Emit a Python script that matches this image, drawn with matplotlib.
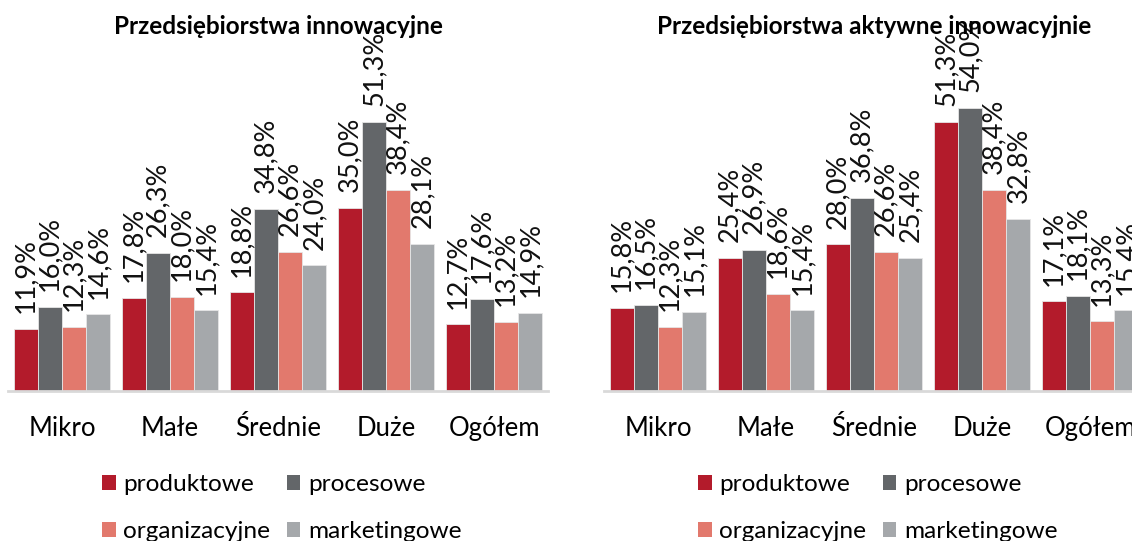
import matplotlib
matplotlib.use("Agg")
import matplotlib.pyplot as plt
import numpy as np
from matplotlib.patches import Patch

categories = ["Mikro", "Małe", "Średnie", "Duże", "Ogółem"]
series_names = ["produktowe", "procesowe", "organizacyjne", "marketingowe"]
colors = ["#B31B2B", "#636669", "#E2796D", "#A5A8AB"]

titles = ["Przedsiębiorstwa innowacyjne", "Przedsiębiorstwa aktywne innowacyjnie"]

innowacyjne_produktowe = [11.9, 17.8, 18.8, 35.0, 12.7]
innowacyjne_procesowe = [16.0, 26.3, 34.8, 51.3, 17.6]
innowacyjne_organizacyjne = [12.3, 18.0, 26.6, 38.4, 13.2]
innowacyjne_marketingowe = [14.6, 15.4, 24.0, 28.1, 14.9]

aktywne_produktowe = [15.8, 25.4, 28.0, 51.3, 17.1]
aktywne_procesowe = [16.5, 26.9, 36.8, 54.0, 18.1]
aktywne_organizacyjne = [12.3, 18.6, 26.6, 38.4, 13.3]
aktywne_marketingowe = [15.1, 15.4, 25.4, 32.8, 15.4]

panels = [
    [innowacyjne_produktowe, innowacyjne_procesowe, innowacyjne_organizacyjne, innowacyjne_marketingowe],
    [aktywne_produktowe, aktywne_procesowe, aktywne_organizacyjne, aktywne_marketingowe],
]

plt.rcParams['font.family'] = ['Lato', 'DejaVu Sans']

W, H = 1132, 541
fig = plt.figure(figsize=(W / 100, H / 100), dpi=100)

ymax = 60
px_per = 5.24
ax_h = ymax * px_per / H
ax_bottom = (H - 391) / H
ax_w = 540 / W
lefts = [8 / W, 604 / W]

bw = 0.223
x = np.arange(len(categories))

for p, (left, data, title) in enumerate(zip(lefts, panels, titles)):
    ax = fig.add_axes([left, ax_bottom, ax_w, ax_h])
    ax.set_xlim(-0.5, 4.5)
    ax.set_ylim(0, ymax)
    for i, (vals, col) in enumerate(zip(data, colors)):
        xs = x + (i - 1.5) * bw
        ax.bar(xs, vals, width=bw, color=col, edgecolor="#E6E6E6", linewidth=0.6, clip_on=False)
        for xi, v in zip(xs, vals):
            ax.text(xi, v + 3.0, f"{v:.1f}%".replace(".", ","), rotation=90,
                    ha="center", va="bottom", fontsize=19.5, color="#111111", clip_on=False)
    for s in ["top", "right", "left"]:
        ax.spines[s].set_visible(False)
    ax.spines["bottom"].set_color("#D9D9D9")
    ax.spines["bottom"].set_linewidth(2)
    ax.set_yticks([])
    ax.set_xticks(x)
    ax.set_xticklabels(categories, fontsize=18.5)
    ax.tick_params(axis="x", length=0, pad=18)
    cx = left + ax_w / 2
    fig.text(cx, 1 - 27 / H, title, ha="center", va="center", fontsize=17.5, fontweight="bold")

    handles = [Patch(facecolor=c, edgecolor="none") for c in colors]
    order = [0, 2, 1, 3]
    fig.legend([handles[k] for k in order], [series_names[k] for k in order],
               loc="upper left", bbox_to_anchor=((left * W + 82) / W, 1 - 462 / H),
               ncol=2, frameon=False, fontsize=17.6, handlelength=0.57, handleheight=0.57,
               handletextpad=0.3, columnspacing=0.65, labelspacing=1.07, borderpad=0)

fig.savefig("out.png", dpi=100)
